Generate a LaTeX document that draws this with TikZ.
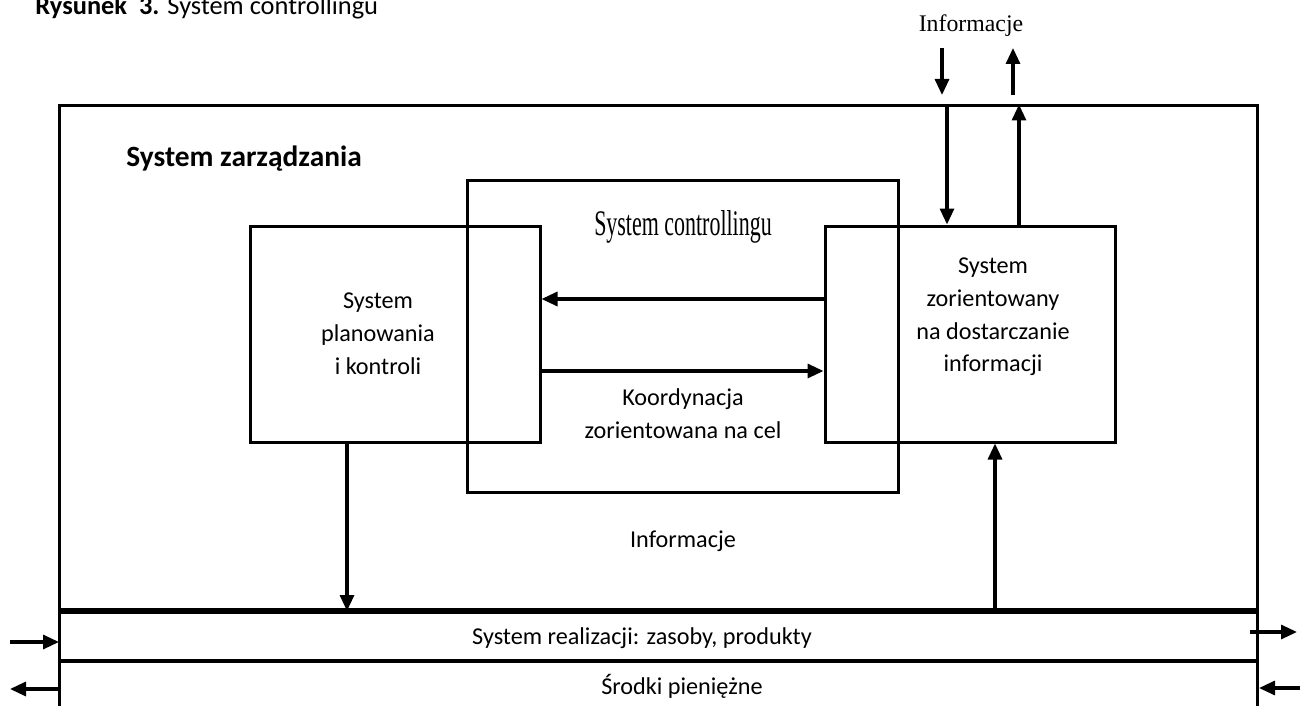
\documentclass[tikz,border=0pt]{standalone}
\usepackage{fontspec}
\setmainfont{Carlito}
\newfontfamily\serifnarrow[FakeStretch=0.61]{Liberation Serif}
\newfontfamily\seriffont{Liberation Serif}
\usetikzlibrary{arrows.meta, positioning}

\begin{document}
\begin{tikzpicture}[
    x=0.5pt, y=-0.5pt,
    box/.style={draw, line width=1.5pt, inner sep=0pt},
    flow/.style={line width=1.6pt, -{Triangle[length=8pt, width=7pt]}},
    txt/.style={align=center, inner sep=0pt, font=\fontsize{12.1}{16.4}\selectfont},
]
    \useasboundingbox (0,0) rectangle (1301,706);

    % Caption
    \node[anchor=base west, inner sep=0pt, font=\fontsize{13.2}{15}\selectfont] (caption) at (35,15)
        {\textbf{Rysunek\ \ 3.} System controllingu};

    % System zarzadzania
    \node[box, minimum width=599pt, minimum height=252.5pt] (zarz) at (658,358.5) {};
    \node[anchor=base west, inner sep=0pt, font=\fontsize{14.7}{17}\selectfont\bfseries] (zarztxt) at (126,167) {System zarządzania};

    % System controllingu
    \node[box, minimum width=215.5pt, minimum height=156pt] (ctrl) at (682.5,336) {};
    \node[anchor=base, inner sep=0pt, font=\serifnarrow\fontsize{18}{18}\selectfont] (ctrltxt) at (683,235) {System controllingu};

    % Planowanie i kontrola
    \node[box, minimum width=145pt, minimum height=108pt] (plan) at (395,334) {};
    \node[txt] (plantxt) at (378,333.5) {System\\planowania\\i kontroli};

    % Dostarczanie informacji
    \node[box, minimum width=145pt, minimum height=108pt] (info) at (970,334) {};
    \node[txt] (infotxt) at (993,317) {System\\zorientowany\\na dostarczanie\\informacji};

    % Koordynacja
    \draw[flow] ([yshift=17.5pt]info.west) -- ([yshift=17.5pt]plan.east);
    \draw[flow] ([yshift=-18.5pt]plan.east) -- ([yshift=-18.5pt]info.west);
    \node[txt] (koord) at (683,413.5) {Koordynacja\\zorientowana na cel};

    % System realizacji
    \coordinate (bandL) at (59,611);
    \coordinate (bandR) at (1257,611);
    \coordinate (cashL) at (59,661);
    \coordinate (cashR) at (1257,661);
    \draw[line width=2.6pt] (bandL) -- (bandR);
    \draw[line width=1.9pt] (cashL) -- (cashR);
    \draw[line width=1.5pt] (bandL) -- (59,712);
    \draw[line width=1.5pt] (bandR) -- (1257,712);
    \node[txt, anchor=base] (real) at (642,644) {System realizacji: zasoby, produkty};
    \node[txt, anchor=base] (cash) at (682,694) {Środki pieniężne};

    % Informacje
    \draw[flow] ([xshift=-24pt]plan.south) -- ([xshift=-24pt]plan.south |- bandL);
    \draw[flow] ([xshift=12.5pt]info.south |- bandL) -- ([xshift=12.5pt]info.south);
    \node[txt, anchor=base] (infomid) at (683,547) {Informacje};

    % Informacje z otoczenia
    \node[anchor=base, inner sep=0pt, font=\seriffont\fontsize{11.9}{14}\selectfont] (infotop) at (971,32) {Informacje};
    \coordinate (inA) at (942,48);
    \coordinate (inB) at (942,95);
    \coordinate (outA) at (1013,95);
    \coordinate (outB) at (1013,48);
    \draw[flow] (inA) -- (inB);
    \draw[flow] (outA) -- (outB);
    \draw[flow] ([xshift=-11.5pt]info.north |- zarz.north) -- ([xshift=-11.5pt]info.north);
    \draw[flow] ([xshift=24.5pt]info.north) -- ([xshift=24.5pt]info.north |- zarz.north);

    % Przeplywy na brzegach
    \coordinate (realin) at (10,642);
    \coordinate (realinE) at (59,642);
    \coordinate (cashoutW) at (10,689);
    \coordinate (cashout) at (59,689);
    \coordinate (realout) at (1250,632);
    \coordinate (realoutE) at (1297,632);
    \coordinate (cashin) at (1300,688);
    \coordinate (cashinW) at (1259,688);
    \draw[flow] (realin) -- (realinE);
    \draw[flow] (cashout) -- (cashoutW);
    \draw[flow] (realout) -- (realoutE);
    \draw[flow] (cashin) -- (cashinW);
\end{tikzpicture}
\end{document}
